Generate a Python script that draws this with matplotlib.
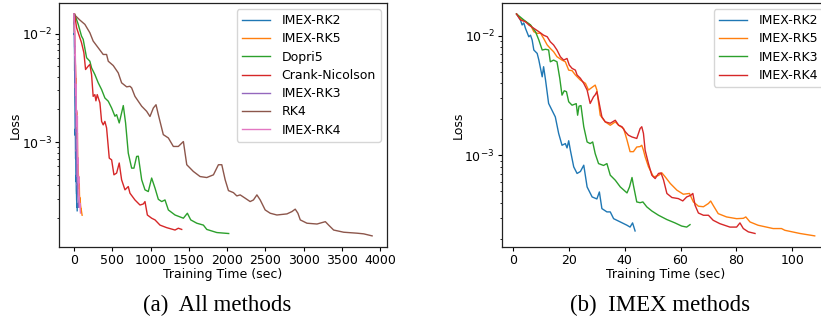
import matplotlib.pyplot as plt

# === Data (training time in sec, loss) ===
imex_rk2_t = [1.2, 2.6, 3.2, 3.8, 4.4, 5.6, 6.2, 6.8, 7.4, 8.6, 9.2, 10.4, 10.9, 11.6, 12.7, 13.3, 13.9,
              15.1, 16.3, 17.5, 18.7, 19.3, 19.9, 20.5, 21.7, 22.9, 24.1, 25.3, 26.5, 28.3, 30.0, 30.9,
              31.8, 33.6, 34.8, 36.0, 38.4, 40.8, 41.9, 42.8, 43.7]
imex_rk2_loss = [0.0152, 0.01355, 0.0123, 0.0128, 0.01153, 0.0098, 0.0101, 0.0092, 0.00759, 0.00711,
                 0.00625, 0.00453, 0.0055, 0.00425, 0.00271, 0.00254, 0.00238, 0.00209, 0.00152, 0.00121,
                 0.00125, 0.00115, 0.00132, 0.0011, 0.000798, 0.000703, 0.00073, 0.000824, 0.000542,
                 0.000447, 0.00043, 0.000492, 0.000357, 0.000335, 0.000335, 0.000294, 0.000276, 0.000259,
                 0.00025, 0.000271, 0.000232]

imex_rk3_t = [1.2, 3.8, 6.2, 8.0, 9.2, 10.4, 11.6, 12.7, 13.3, 14.5, 15.7, 16.7, 17.5, 18.3, 19.1, 19.9,
              21.1, 22.6, 23.1, 23.6, 24.3, 25.3, 26.5, 27.6, 28.5, 29.4, 30.6, 32.4, 33.6, 34.8, 36.6,
              38.4, 40.8, 41.7, 42.6, 43.1, 44.3, 45.5, 46.5, 47.9, 49.7, 52.1, 55.1, 58.0, 60.4, 62.2, 63.4]
imex_rk3_loss = [0.0152, 0.01355, 0.0123, 0.0108, 0.0092, 0.00759, 0.0077, 0.0076, 0.00605, 0.00625,
                 0.00605, 0.0044, 0.00318, 0.00346, 0.0034, 0.0028, 0.00262, 0.0027, 0.00216, 0.00257,
                 0.0026, 0.00173, 0.00129, 0.00125, 0.00129, 0.00103, 0.00085, 0.00082, 0.00085, 0.00068,
                 0.000617, 0.000542, 0.000483, 0.000542, 0.00065, 0.00056, 0.000406, 0.0004, 0.000406,
                 0.000369, 0.000341, 0.000314, 0.000289, 0.000271, 0.000255, 0.00025, 0.000262]

imex_rk4_t = [1.2, 2.6, 4.4, 5.6, 7.4, 9.2, 10.9, 12.2, 13.3, 14.5, 15.7, 16.9, 18.1, 19.3, 20.1, 21.1,
              22.3, 22.9, 24.1, 25.3, 26.5, 27.6, 28.8, 29.4, 30.0, 30.6, 31.8, 33.0, 34.8, 36.6, 37.8,
              39.0, 40.2, 41.3, 42.6, 44.3, 45.5, 46.1, 46.7, 47.3, 48.5, 49.7, 50.9, 52.1, 53.0, 53.9,
              55.1, 56.9, 59.2, 60.8, 62.2, 63.7, 64.4, 65.2, 66.4, 68.2, 70.0, 71.7, 74.1, 77.7, 80.1,
              81.3, 82.5, 84.3, 86.7]
imex_rk4_loss = [0.0152, 0.01355, 0.0131, 0.0123, 0.01153, 0.0108, 0.0101, 0.0098, 0.0089, 0.00836,
                 0.00759, 0.00667, 0.00625, 0.00645, 0.00568, 0.00533, 0.00515, 0.00469, 0.0044, 0.00399,
                 0.00351, 0.00271, 0.00308, 0.0032, 0.0034, 0.0029, 0.00209, 0.0019, 0.00185, 0.00196,
                 0.00178, 0.00173, 0.00157, 0.00147, 0.00142, 0.00138, 0.00167, 0.00173, 0.00152, 0.0011,
                 0.00085, 0.00068, 0.000637, 0.000703, 0.00071, 0.00062, 0.000478, 0.000442, 0.000433,
                 0.000414, 0.000447, 0.000462, 0.000478, 0.000381, 0.000328, 0.000314, 0.000314, 0.000285,
                 0.000267, 0.00025, 0.00025, 0.000271, 0.000243, 0.000228, 0.000221]

imex_rk5_t = [1.2, 2.6, 4.4, 6.2, 7.4, 8.6, 9.8, 10.9, 12.2, 13.3, 14.5, 15.7, 17.5, 18.7, 19.9, 21.1,
              22.3, 24.1, 25.9, 27.0, 28.3, 29.4, 30.0, 31.2, 33.0, 34.8, 36.6, 37.8, 39.6, 40.8, 41.9,
              43.1, 44.3, 45.5, 46.1, 46.7, 47.3, 48.5, 50.3, 52.1, 53.3, 54.5, 56.3, 58.7, 61.0, 63.2,
              64.6, 66.4, 68.2, 70.0, 70.8, 71.7, 73.5, 76.5, 80.1, 82.5, 83.4, 84.9, 87.8, 93.2, 96.2,
              97.4, 102.8, 108.1]
imex_rk5_loss = [0.0152, 0.014, 0.0131, 0.0123, 0.0108, 0.01047, 0.0105, 0.0095, 0.00836, 0.00783,
                 0.00734, 0.00667, 0.00625, 0.00605, 0.00515, 0.0051, 0.00469, 0.00425, 0.00399, 0.00351,
                 0.0037, 0.00386, 0.00351, 0.00216, 0.0019, 0.00178, 0.0019, 0.00178, 0.00167, 0.00134,
                 0.00107, 0.00107, 0.00117, 0.00118, 0.00121, 0.0011, 0.00097, 0.0008, 0.000658, 0.000676,
                 0.000711, 0.000658, 0.00058, 0.000509, 0.000471, 0.000478, 0.000406, 0.000374, 0.00037,
                 0.000394, 0.000413, 0.00038, 0.000324, 0.000304, 0.000294, 0.000296, 0.000304, 0.000276,
                 0.000259, 0.000243, 0.000243, 0.000235, 0.000221, 0.000211]

dopri5_t = [13, 57, 100, 122, 166, 209, 231, 274, 318, 362, 405, 449, 493, 536, 558, 592, 623, 645, 675,
            710, 754, 784, 819, 841, 885, 928, 971, 1015, 1059, 1102, 1146, 1189, 1233, 1320, 1429, 1481,
            1525, 1604, 1690, 1734, 1865, 2020]
dopri5_loss = [0.0150, 0.0122, 0.0095, 0.00886, 0.0060, 0.00557, 0.00484, 0.0042, 0.00352, 0.00305,
               0.00255, 0.00238, 0.00206, 0.00173, 0.00179, 0.0015, 0.00186, 0.00217, 0.0015, 0.00079,
               0.000574, 0.000574, 0.000736, 0.00074, 0.000448, 0.000362, 0.000349, 0.000465, 0.000375,
               0.000296, 0.000282, 0.000292, 0.000236, 0.000212, 0.000198, 0.00022, 0.000191, 0.000178,
               0.000171, 0.000156, 0.000146, 0.000143]

cn_t = [10, 35, 57, 100, 131, 153, 187, 209, 231, 252, 274, 288, 305, 340, 362, 383, 405, 427, 462, 493,
        523, 558, 592, 623, 667, 710, 732, 797, 863, 906, 928, 959, 1015, 1059, 1124, 1211, 1320, 1363,
        1407]
cn_loss = [0.0152, 0.0114, 0.0102, 0.00826, 0.00667, 0.00467, 0.00501, 0.0052, 0.0042, 0.00264, 0.00274,
           0.0024, 0.00274, 0.0023, 0.00155, 0.00144, 0.00155, 0.00135, 0.00071, 0.000684, 0.000498,
           0.000517, 0.00064, 0.000448, 0.000362, 0.000388, 0.000337, 0.000292, 0.000262, 0.000268,
           0.000282, 0.000212, 0.000198, 0.000191, 0.000171, 0.000162, 0.000154, 0.00016, 0.000156]

rk4_t = [5, 78, 144, 209, 252, 318, 383, 427, 449, 514, 579, 623, 689, 732, 754, 797, 885, 950, 993,
         1037, 1072, 1102, 1167, 1233, 1298, 1363, 1429, 1473, 1559, 1647, 1734, 1821, 1886, 1930, 1974,
         2017, 2082, 2126, 2170, 2235, 2300, 2343, 2388, 2431, 2496, 2562, 2649, 2780, 2845, 2888, 2923,
         2954, 3041, 3172, 3281, 3324, 3389, 3520, 3695, 3781, 3891]
rk4_loss = [0.0150, 0.01337, 0.01219, 0.0102, 0.00855, 0.00741, 0.00643, 0.00643, 0.00557, 0.00508,
            0.00435, 0.00352, 0.00323, 0.00327, 0.00316, 0.00264, 0.00214, 0.00192, 0.00172, 0.00206,
            0.00221, 0.00179, 0.00117, 0.00109, 0.00091, 0.00091, 0.00101, 0.000617, 0.000535, 0.00048,
            0.00047, 0.000498, 0.000617, 0.000617, 0.000448, 0.000356, 0.000341, 0.000318, 0.000325,
            0.000303, 0.000282, 0.000292, 0.000325, 0.000292, 0.000236, 0.00022, 0.000212, 0.000217,
            0.000228, 0.00024, 0.00022, 0.000191, 0.000178, 0.000175, 0.000184, 0.000171, 0.000154,
            0.000147, 0.000144, 0.000142, 0.000136]

left_series = [
    ("IMEX-RK2", imex_rk2_t, imex_rk2_loss),
    ("IMEX-RK5", imex_rk5_t, imex_rk5_loss),
    ("Dopri5", dopri5_t, dopri5_loss),
    ("Crank-Nicolson", cn_t, cn_loss),
    ("IMEX-RK3", imex_rk3_t, imex_rk3_loss),
    ("RK4", rk4_t, rk4_loss),
    ("IMEX-RK4", imex_rk4_t, imex_rk4_loss),
]
right_series = [
    ("IMEX-RK2", imex_rk2_t, imex_rk2_loss),
    ("IMEX-RK5", imex_rk5_t, imex_rk5_loss),
    ("IMEX-RK3", imex_rk3_t, imex_rk3_loss),
    ("IMEX-RK4", imex_rk4_t, imex_rk4_loss),
]

TICK_FS = 9
LABEL_FS = 9
LEGEND_FS = 9

fig = plt.figure(figsize=(8.21, 3.22), dpi=100)
ax1 = fig.add_axes([0.0719, 0.233, 0.3995, 0.758])
ax2 = fig.add_axes([0.611, 0.233, 0.3995, 0.758])

for ax, series in [(ax1, left_series), (ax2, right_series)]:
    for i, (name, t, loss) in enumerate(series):
        ax.plot(t, loss, color=f"C{i}", lw=1.0, label=name)
    ax.set_yscale("log")
    ax.set_xlabel("Training Time (sec)", fontsize=LABEL_FS, labelpad=1)
    ax.set_ylabel("Loss", fontsize=LABEL_FS, labelpad=0)
    ax.tick_params(labelsize=TICK_FS, length=3, pad=2)
    ax.tick_params(which="minor", length=1.8)
    for s in ax.spines.values():
        s.set_color("#222222")
        s.set_linewidth(0.9)
    ax.legend(fontsize=LEGEND_FS, loc="upper right", handlelength=2.3, labelspacing=0.42,
              borderpad=0.4, handletextpad=0.9, framealpha=0.8)

ax1.set_xticks(range(0, 4001, 500))

fig.text(0.265, 0.034, "(a)  All methods", fontsize=16.5, family="Liberation Serif",
         ha="center", va="baseline")
fig.text(0.804, 0.034, "(b)  IMEX methods", fontsize=16.5, family="Liberation Serif",
         ha="center", va="baseline")

fig.savefig("out.png", dpi=100)
